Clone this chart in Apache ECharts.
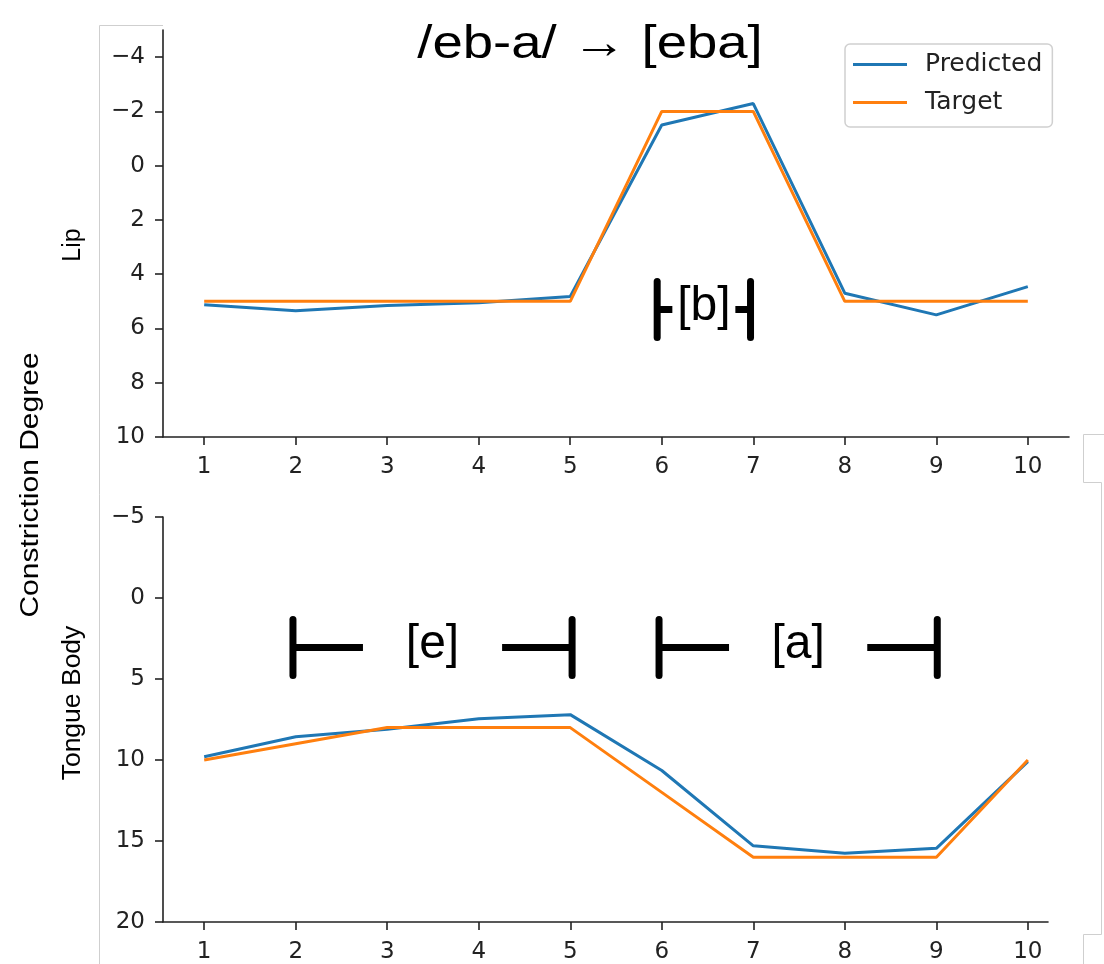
<!DOCTYPE html>
<html><head><meta charset="utf-8">
<script src="https://cdn.jsdelivr.net/npm/echarts@6/dist/echarts.min.js"></script>
<style>html,body{margin:0;padding:0;background:#fff}#c{width:1104px;height:964px}</style>
</head><body><div id="c"></div>
<script>
// ---- data ----
const steps = [1,2,3,4,5,6,7,8,9,10];
const lipPredicted = [5.13,5.35,5.15,5.05,4.82,-1.5,-2.29,4.7,5.5,4.46];
const lipTarget = [5,5,5,5,5,-2,-2,5,5,5];
const tonguePredicted = [9.8,8.57,8.1,7.45,7.2,10.65,15.3,15.75,15.45,10.1];
const tongueTarget = [10,9,8,8,8,12,16,16,16,10];
const xTicks = [1,2,3,4,5,6,7,8,9,10];
const lipTicks = [-4,-2,0,2,4,6,8,10];
const tongueTicks = [-5,0,5,10,15,20];
const lipSpanLabels = ['[b]'];
const lipSpanFrom = [5.95];
const lipSpanTo = [6.97];
const lipSpanY = [5.3];
const tongueSpanLabels = ['[e]','[a]'];
const tongueSpanFrom = [1.97, 5.97];
const tongueSpanTo = [5.02, 9.01];
const tongueSpanY = [3.05, 3.05];
const titleText = '/eb-a/ \u2192 [eba]';

// ---- chart ----
const chart = echarts.init(document.getElementById('c'), null, {renderer:'canvas'});
const minus = v => String(v).replace('-', '\u2212');
const tickFont = {fontFamily:'DejaVu Sans', fontSize:23, color:'#222'};
function xAxisCfg(gi, max){
  return {type:'value', gridIndex:gi, min:0.55, max:max,
    axisLine:{onZero:false, lineStyle:{color:'#222', width:1.6}},
    axisTick:{customValues:xTicks, length:8, lineStyle:{color:'#222', width:1.6}},
    axisLabel:Object.assign({customValues:xTicks, margin:19}, tickFont),
    splitLine:{show:false}};
}
function yAxisCfg(gi, min, max, ticks){
  return {type:'value', gridIndex:gi, inverse:true, min:min, max:max,
    axisLine:{show:true, onZero:false, lineStyle:{color:'#222', width:1.6}},
    axisTick:{show:true, customValues:ticks, length:8, lineStyle:{color:'#222', width:1.6}},
    axisLabel:Object.assign({customValues:ticks, margin:18, formatter:minus}, tickFont),
    splitLine:{show:false}};
}
function spanRender(labels){
  return function(params, api){
    const y = api.value(2);
    const a = api.coord([api.value(0), y]);
    const b = api.coord([api.value(1), y]);
    const label = labels[params.dataIndex];
    const textW = 55;
    const stub = Math.min(70, (b[0]-a[0]-textW)/2 - 4);
    const half = 28;
    const ls = {stroke:'#000', lineWidth:7, lineCap:'round'};
    return {type:'group', children:[
      {type:'line', shape:{x1:a[0], y1:a[1]-half, x2:a[0], y2:a[1]+half}, style:ls},
      {type:'line', shape:{x1:b[0], y1:b[1]-half, x2:b[0], y2:b[1]+half}, style:ls},
      {type:'line', shape:{x1:a[0], y1:a[1], x2:a[0]+stub, y2:a[1]}, style:{stroke:'#000', lineWidth:7, lineCap:'butt'}},
      {type:'line', shape:{x1:b[0]-stub, y1:b[1], x2:b[0], y2:b[1]}, style:{stroke:'#000', lineWidth:7, lineCap:'butt'}},
      {type:'text', x:(a[0]+b[0])/2, y:a[1]-3, style:{text:label, fontFamily:'Liberation Sans', fontSize:48, fill:'#000', align:'center', verticalAlign:'middle'}}
    ]};
  };
}
const zip = (xs, ys) => xs.map((x,i)=>[x, ys[i]]);
const spanData = (f,t,y) => f.map((v,i)=>[v, t[i], y[i]]);
const lineBase = {type:'line', showSymbol:false, symbol:'none', smooth:false, animation:false};

const option = {
  animation:false,
  backgroundColor:'#fff',
  grid:[{left:163, top:30, width:906, height:407},{left:163, top:517, width:885, height:405}],
  xAxis:[xAxisCfg(0, 10.45), xAxisCfg(1, 10.22)],
  yAxis:[yAxisCfg(0, -5, 10, lipTicks), yAxisCfg(1, -5, 20, tongueTicks)],
  legend:{data:['Predicted','Target'], orient:'vertical', left:845, top:44, icon:'rect',
    itemWidth:54, itemHeight:3, itemGap:13, padding:[8,10,12,8],
    borderColor:'#d0d0d0', borderWidth:1.5, borderRadius:5, backgroundColor:'#fff',
    textStyle:{fontSize:25, fontFamily:'DejaVu Sans', color:'#222', padding:[0,0,0,13]}},
  series:[
    Object.assign({name:'Predicted', xAxisIndex:0, yAxisIndex:0, data:zip(steps, lipPredicted), lineStyle:{color:'#1f77b4', width:3}, itemStyle:{color:'#1f77b4'}, z:2}, lineBase),
    Object.assign({name:'Target', xAxisIndex:0, yAxisIndex:0, data:zip(steps, lipTarget), lineStyle:{color:'#ff7f0e', width:3}, itemStyle:{color:'#ff7f0e'}, z:3}, lineBase),
    Object.assign({name:'Predicted', xAxisIndex:1, yAxisIndex:1, data:zip(steps, tonguePredicted), lineStyle:{color:'#1f77b4', width:3}, itemStyle:{color:'#1f77b4'}, z:2}, lineBase),
    Object.assign({name:'Target', xAxisIndex:1, yAxisIndex:1, data:zip(steps, tongueTarget), lineStyle:{color:'#ff7f0e', width:3}, itemStyle:{color:'#ff7f0e'}, z:3}, lineBase),
    {type:'custom', name:'lipSpans', xAxisIndex:0, yAxisIndex:0, data:spanData(lipSpanFrom, lipSpanTo, lipSpanY), renderItem:spanRender(lipSpanLabels), z:4, silent:true},
    {type:'custom', name:'tongueSpans', xAxisIndex:1, yAxisIndex:1, data:spanData(tongueSpanFrom, tongueSpanTo, tongueSpanY), renderItem:spanRender(tongueSpanLabels), z:4, silent:true}
  ],
  graphic:[
    // faint frame remnants
    {type:'line', shape:{x1:99.5, y1:25.5, x2:99.5, y2:964}, style:{stroke:'#cfcfcf', lineWidth:1}, z:0},
    {type:'line', shape:{x1:99.5, y1:25.5, x2:163, y2:25.5}, style:{stroke:'#cfcfcf', lineWidth:1}, z:0},
    {type:'polyline', shape:{points:[[1104,434.5],[1083.5,434.5],[1083.5,482.5],[1101.5,482.5],[1101.5,934.5],[1083.5,934.5],[1083.5,964]]}, style:{stroke:'#cfcfcf', lineWidth:1, fill:null}, z:0},
    {type:'text', x:590, y:45, scaleX:1.16, style:{text:titleText, fontFamily:'Liberation Sans', fontSize:47, fill:'#000', align:'center', verticalAlign:'middle'}, z:10},
    {type:'text', x:73, y:245, rotation:Math.PI/2, style:{text:'Lip', fontFamily:'Liberation Sans', fontSize:25, fill:'#000', align:'center', verticalAlign:'middle'}},
    {type:'text', x:73, y:703, rotation:Math.PI/2, scaleX:1.06, style:{text:'Tongue Body', fontFamily:'Liberation Sans', fontSize:25, fill:'#000', align:'center', verticalAlign:'middle'}},
    {type:'text', x:31, y:485, rotation:Math.PI/2, scaleX:1.2, style:{text:'Constriction Degree', fontFamily:'Liberation Sans', fontSize:25, fill:'#000', align:'center', verticalAlign:'middle'}}
  ]
};
chart.setOption(option);
</script>
</body></html>
